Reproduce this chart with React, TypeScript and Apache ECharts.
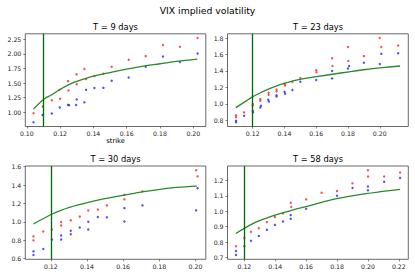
import React, { useEffect, useRef } from "react";
import * as echarts from "echarts";

const SUPTITLE = "VIX implied volatility";
const PANEL_TITLES = ["T = 9 days", "T = 23 days", "T = 30 days", "T = 58 days"];
const X_LABEL = "strike";

// T = 9 days
const T9_RED = [[0.104,0.983],[0.1096,1.097],[0.115,1.205],[0.1196,1.385],[0.12,1.233],[0.1248,1.533],[0.125,1.372],[0.1298,1.65],[0.130,1.48],[0.1346,1.74],[0.1356,1.57],[0.1406,1.62],[0.146,1.66],[0.151,1.78],[0.1612,1.90],[0.1714,1.96],[0.1818,2.15],[0.192,2.12],[0.2026,2.27]];
const T9_BLUE = [[0.104,0.83],[0.1094,0.955],[0.115,0.98],[0.1198,1.083],[0.1248,1.127],[0.1254,1.122],[0.1296,1.124],[0.130,1.218],[0.1346,1.17],[0.1356,1.384],[0.1406,1.415],[0.146,1.418],[0.151,1.54],[0.1612,1.595],[0.1714,1.78],[0.1818,1.955],[0.192,1.86],[0.2026,2.005]];
const T9_CURVE = [[0.104,1.057],[0.1106,1.233],[0.115,1.30],[0.1196,1.386],[0.125,1.47],[0.130,1.528],[0.136,1.585],[0.142,1.63],[0.150,1.68],[0.160,1.74],[0.170,1.79],[0.180,1.83],[0.190,1.872],[0.2024,1.91]];

// T = 23 days
const T23_RED = [[0.1095,0.861],[0.1095,0.838],[0.1146,0.897],[0.12,1.0],[0.12,0.98],[0.1248,1.058],[0.1248,1.038],[0.130,1.135],[0.130,1.112],[0.135,1.174],[0.135,1.152],[0.14,1.243],[0.1404,1.225],[0.145,1.27],[0.150,1.314],[0.16,1.41],[0.1602,1.385],[0.170,1.555],[0.1702,1.46],[0.18,1.69],[0.1802,1.52],[0.19,1.58],[0.20,1.80],[0.201,1.69],[0.2116,1.71]];
const T23_BLUE = [[0.1095,0.796],[0.1095,0.777],[0.1146,0.855],[0.12,0.917],[0.1202,0.9],[0.1248,0.958],[0.1252,0.978],[0.1298,1.05],[0.1302,1.03],[0.135,1.09],[0.135,1.105],[0.14,1.148],[0.1404,1.124],[0.145,1.168],[0.15,1.27],[0.16,1.29],[0.17,1.40],[0.17,1.31],[0.18,1.43],[0.1807,1.46],[0.19,1.50],[0.20,1.485],[0.201,1.61],[0.2116,1.615]];
const T23_CURVE = [[0.1093,0.955],[0.1162,1.04],[0.1198,1.085],[0.1246,1.133],[0.1299,1.18],[0.1352,1.22],[0.1404,1.252],[0.1467,1.285],[0.153,1.31],[0.160,1.33],[0.1702,1.36],[0.1807,1.39],[0.1912,1.418],[0.2017,1.44],[0.2128,1.46]];

// T = 30 days
const T30_RED = [[0.1104,0.843],[0.1104,0.80],[0.1158,0.896],[0.1206,0.918],[0.1257,1.0],[0.1257,0.962],[0.131,1.017],[0.136,1.058],[0.1407,1.124],[0.146,1.135],[0.151,1.18],[0.1607,1.295],[0.1607,1.245],[0.1707,1.332],[0.2004,1.562],[0.2012,1.495]];
const T30_BLUE = [[0.1104,0.68],[0.1104,0.64],[0.1158,0.706],[0.1206,0.808],[0.1257,0.808],[0.1257,0.852],[0.131,0.866],[0.131,0.905],[0.136,0.94],[0.1407,0.918],[0.1407,1.002],[0.146,1.053],[0.151,1.05],[0.1607,1.004],[0.1607,1.15],[0.1707,1.18],[0.2004,1.126],[0.2012,1.366]];
const T30_CURVE = [[0.1104,0.978],[0.1196,1.075],[0.1252,1.122],[0.1307,1.16],[0.1363,1.19],[0.1418,1.218],[0.1473,1.243],[0.1529,1.264],[0.1621,1.297],[0.1713,1.33],[0.1805,1.355],[0.1898,1.375],[0.2008,1.39]];

// T = 58 days
const T58_RED = [[0.1146,0.774],[0.12,0.828],[0.1243,0.867],[0.1294,0.89],[0.1346,0.93],[0.1398,0.962],[0.145,0.986],[0.150,1.055],[0.1504,1.027],[0.16,1.077],[0.170,1.12],[0.18,1.13],[0.19,1.18],[0.20,1.265],[0.2001,1.225],[0.2105,1.225],[0.2208,1.25]];
const T58_BLUE = [[0.1146,0.743],[0.1146,0.717],[0.12,0.774],[0.1243,0.81],[0.1294,0.84],[0.1346,0.88],[0.1398,0.912],[0.145,0.934],[0.150,0.951],[0.150,0.975],[0.16,1.016],[0.18,1.10],[0.19,1.15],[0.20,1.16],[0.20,1.135],[0.2105,1.19],[0.2208,1.215]];
const T58_CURVE = [[0.1144,0.856],[0.1237,0.91],[0.129,0.936],[0.1355,0.96],[0.142,0.981],[0.1485,1.0],[0.155,1.018],[0.1617,1.035],[0.17,1.057],[0.1769,1.075],[0.1878,1.096],[0.1987,1.114],[0.2095,1.128],[0.2208,1.142]];

// vertical lines (forward level)
const FORWARDS = [0.1106, 0.1162, 0.1197, 0.1236];

const X_TICKS = [
  [0.10, 0.12, 0.14, 0.16, 0.18, 0.20],
  [0.12, 0.14, 0.16, 0.18, 0.20],
  [0.12, 0.14, 0.16, 0.18, 0.20],
  [0.12, 0.14, 0.16, 0.18, 0.20, 0.22],
];
const Y_TICKS = [
  [1.00, 1.25, 1.50, 1.75, 2.00, 2.25],
  [0.8, 1.0, 1.2, 1.4, 1.6, 1.8],
  [0.6, 0.8, 1.0, 1.2, 1.4, 1.6],
  [0.7, 0.8, 0.9, 1.0, 1.1, 1.2],
];
const Y_DECIMALS = [2, 1, 1, 1];

const REDS = [T9_RED, T23_RED, T30_RED, T58_RED];
const BLUES = [T9_BLUE, T23_BLUE, T30_BLUE, T58_BLUE];
const CURVES = [T9_CURVE, T23_CURVE, T30_CURVE, T58_CURVE];

const FONT = "DejaVu Sans";
const GRIDS = [
  { left: 25.3, top: 33.8, width: 180.5, height: 92.7 },
  { left: 227.5, top: 33.8, width: 180.8, height: 92.7 },
  { left: 25.3, top: 166, width: 180.5, height: 93.3 },
  { left: 227.5, top: 166, width: 180.8, height: 93.3 },
];

function limits(vals: number[]) {
  const lo = Math.min(...vals);
  const hi = Math.max(...vals);
  const m = (hi - lo) * 0.05;
  return [lo - m, hi + m];
}

export default function App() {
  const ref = useRef<HTMLDivElement>(null);
  useEffect(() => {
    if (!ref.current) return;
    const chart = echarts.init(ref.current, undefined, { renderer: "svg" });
    const xAxis: any[] = [];
    const yAxis: any[] = [];
    const series: any[] = [];
    for (let i = 0; i < 4; i++) {
      const all = [...REDS[i], ...BLUES[i], ...CURVES[i]];
      const [xmin, xmax] = limits(all.map((p) => p[0]));
      const [ymin, ymax] = limits(all.map((p) => p[1]));
      xAxis.push({
        type: "value",
        gridIndex: i,
        min: xmin,
        max: xmax,
        name: i === 0 ? X_LABEL : "",
        nameLocation: "middle",
        nameGap: 11,
        nameTextStyle: { fontSize: 6.8, color: "#000", fontFamily: FONT },
        axisLine: { show: false },
        axisTick: { show: true, length: 2, customValues: X_TICKS[i], lineStyle: { color: "#333", width: 0.6 } },
        axisLabel: {
          customValues: X_TICKS[i],
          formatter: (v: number) => v.toFixed(2),
          fontSize: 6.2,
          color: "#222",
          margin: 4,
          fontFamily: FONT,
        },
        splitLine: { show: false },
      });
      yAxis.push({
        type: "value",
        gridIndex: i,
        min: ymin,
        max: ymax,
        axisLine: { show: false },
        axisTick: { show: true, length: 2, customValues: Y_TICKS[i], lineStyle: { color: "#333", width: 0.6 } },
        axisLabel: {
          customValues: Y_TICKS[i],
          formatter: (v: number) => v.toFixed(Y_DECIMALS[i]),
          fontSize: 6.2,
          color: "#222",
          margin: 4,
          fontFamily: FONT,
        },
        splitLine: { show: false },
      });
      series.push({
        type: "scatter",
        xAxisIndex: i,
        yAxisIndex: i,
        data: REDS[i],
        symbol: "circle",
        symbolSize: 2.4,
        itemStyle: { color: "#ff2020" },
        silent: true,
      });
      series.push({
        type: "scatter",
        xAxisIndex: i,
        yAxisIndex: i,
        data: BLUES[i],
        symbol: "circle",
        symbolSize: 2.4,
        itemStyle: { color: "#2020ff" },
        silent: true,
      });
      series.push({
        type: "line",
        xAxisIndex: i,
        yAxisIndex: i,
        data: CURVES[i],
        showSymbol: false,
        smooth: 0.35,
        lineStyle: { color: "#2a8a2a", width: 1.3 },
        silent: true,
        markLine: {
          silent: true,
          symbol: ["none", "none"],
          label: { show: false },
          lineStyle: { color: "#006a00", width: 1.3, type: "solid" },
          emphasis: { disabled: true },
          data: [{ xAxis: FORWARDS[i] }],
        },
      });
    }
    const graphic: any[] = [
      {
        type: "text",
        x: 207.5,
        y: 10,
        style: { text: SUPTITLE, font: `9.3px "${FONT}"`, fill: "#000", textAlign: "center", align: "center", textVerticalAlign: "middle", verticalAlign: "middle" },
      },
    ];
    const titlePos = [
      [115.5, 26.7],
      [318, 26.7],
      [115.5, 159],
      [318, 159],
    ];
    for (let i = 0; i < 4; i++) {
      graphic.push({
        type: "text",
        x: titlePos[i][0],
        y: titlePos[i][1],
        style: { text: PANEL_TITLES[i], font: `8.3px "${FONT}"`, fill: "#000", textAlign: "center", align: "center", textVerticalAlign: "middle", verticalAlign: "middle" },
      });
    }
    chart.setOption({
      animation: false,
      backgroundColor: "#fff",
      textStyle: { fontFamily: FONT },
      grid: GRIDS.map((g) => ({ ...g, show: true, borderColor: "#444", borderWidth: 0.8, containLabel: false })),
      xAxis,
      yAxis,
      series,
      graphic,
    });
    return () => chart.dispose();
  }, []);
  return <div ref={ref} style={{ position: "fixed", left: 0, top: 0, width: 415, height: 277, background: "#fff" }} />;
}
